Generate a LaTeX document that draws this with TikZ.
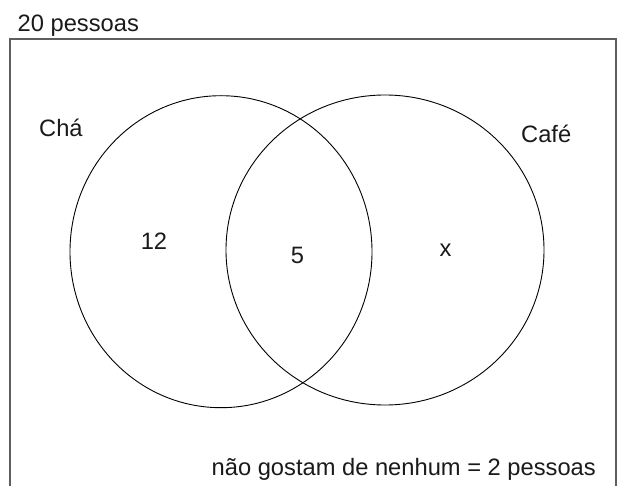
\documentclass[tikz,border=0pt]{standalone}
\usepackage{fontspec}
\setmainfont{Liberation Sans}
\usepackage{xcolor}
\usepackage{tikz}
\definecolor{bg}{HTML}{FFFFFF}
\definecolor{ink}{HTML}{000000}
\definecolor{frame}{HTML}{5E5E5E}
\definecolor{text}{HTML}{1A1A1A}
\tikzset{
  univ/.style={draw=frame, line width=1.4pt},
  setline/.style={draw=ink, line width=0.9pt},
  lab/.style={text=text, inner sep=0pt, font=\fontsize{23.7}{28}\selectfont},
}

\begin{document}
\begin{tikzpicture}[x=1pt,y=-1pt]
  \useasboundingbox[fill=bg] (0,0) rectangle (618,486);
  \def\xL{221}\def\yL{251.7}\def\rxL{151}\def\ryL{156}
  \def\xR{385}\def\yR{250}\def\rxR{159}\def\ryR{155}

  % universe
  \draw[univ] (10,486) -- (10,39) -- (616,39) -- (616,486);
  \node[lab, anchor=base west] (total) at (17.5,31.7) {20 pessoas};

  % the two sets
  \draw[setline] (\xL,\yL) ellipse [x radius=\rxL, y radius=\ryL];
  \draw[setline] (\xR,\yR) ellipse [x radius=\rxR, y radius=\ryR];
  \node[lab, anchor=base west] (cha) at (39,137) {Chá};
  \node[lab, anchor=base west] (cafe) at (521,143) {Café};

  % counts
  \node[lab, anchor=base] (only cha) at (154,250) {12};
  \node[lab, anchor=base] (both) at (297.5,264) {5};
  \node[lab, anchor=base] (only cafe) at (445.5,257) {x};

  \node[lab, anchor=base west] (none) at (211.5,475) {não gostam de nenhum = 2 pessoas};
\end{tikzpicture}
\end{document}
